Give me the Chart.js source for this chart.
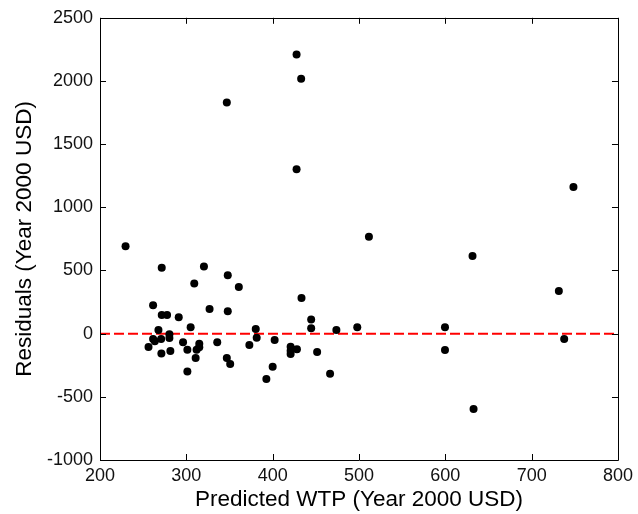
<!DOCTYPE html>
<html>
<head>
<meta charset="utf-8">
<script src="https://cdn.jsdelivr.net/npm/chart.js@4"></script>
<style>
  html, body { margin: 0; padding: 0; background: #fff; }
  #wrap { width: 638px; height: 514px; position: relative; }
</style>
</head>
<body>
<div id="wrap"><canvas id="c" width="638" height="514"></canvas></div>
<script>
// Predicted WTP (x) and residuals (y)
const predictedWTP = [
  427.7, 433, 346.9, 427.7, 748.4, 511.5, 631.5, 731.5, 498, 599.6,
  599.6, 737.7, 632.7, 229.6, 271.5, 320.4, 348, 309.2, 360.8, 433.4,
  261.5, 326.9, 348, 271.5, 277.7, 291.2, 444.6, 305, 444.6, 380.4,
  473.8, 267.7, 280.4, 261.5, 270.8, 263.5, 280.4, 381.5, 402.3, 296.2,
  335.8, 315, 373, 256.2, 315, 420.8, 301.2, 311.9, 428.1, 420.8,
  281.5, 451.5, 271.1, 420.8, 310.8, 346.9, 350.8, 400, 301.2, 466.5,
  392.7
];
const residuals = [
  2209, 2018, 1829, 1302, 1160, 767, 615, 337, 51, 51,
  -129, -43, -597, 691, 521, 531, 463, 397, 369, 282,
  224, 196, 177, 148, 148, 130, 112, 51, 43, 36,
  28, 28, -4, -43, -43, -61, -35, -33, -51, -69,
  -69, -80, -90, -106, -108, -104, -127, -127, -124, -135,
  -137, -145, -158, -161, -192, -192, -240, -261, -300, -318,
  -358
];
// zero reference line
const refLineX = [200, 800];
const refLineY = [0, 0];
// tick labels
const xTicks = [200, 300, 400, 500, 600, 700, 800];
const yTicks = [-1000, -500, 0, 500, 1000, 1500, 2000, 2500];

const scatterData = predictedWTP.map((x, i) => ({ x: x, y: residuals[i] }));
const lineData = refLineX.map((x, i) => ({ x: x, y: refLineY[i] }));

const boxTicks = {
  id: 'boxTicks',
  afterDatasetsDraw(chart) {
    const ctx = chart.ctx;
    const a = chart.chartArea;
    const xs = chart.scales.x, ys = chart.scales.y;
    const L = 6;
    ctx.save();
    ctx.strokeStyle = '#000';
    ctx.lineWidth = 1;
    ctx.beginPath();
    ctx.rect(Math.round(a.left) + 0.5, Math.round(a.top) + 0.5,
             Math.round(a.right - a.left), Math.round(a.bottom - a.top));
    xTicks.forEach(v => {
      const px = Math.round(xs.getPixelForValue(v)) + 0.5;
      ctx.moveTo(px, a.bottom); ctx.lineTo(px, a.bottom - L);
      ctx.moveTo(px, a.top); ctx.lineTo(px, a.top + L);
    });
    yTicks.forEach(v => {
      const py = Math.round(ys.getPixelForValue(v)) + 0.5;
      ctx.moveTo(a.left, py); ctx.lineTo(a.left + L, py);
      ctx.moveTo(a.right, py); ctx.lineTo(a.right - L, py);
    });
    ctx.stroke();
    ctx.restore();
  }
};

const FONT = 'Arial, "Liberation Sans", sans-serif';

new Chart(document.getElementById('c'), {
  type: 'scatter',
  data: {
    datasets: [
      {
        type: 'line',
        data: lineData,
        borderColor: '#ff0000',
        borderWidth: 2,
        borderDash: [10, 4],
        pointRadius: 0,
        fill: false,
        order: 2
      },
      {
        data: scatterData,
        backgroundColor: '#000',
        borderColor: '#000',
        pointRadius: 4,
        pointBorderWidth: 0,
        order: 1
      }
    ]
  },
  options: {
    responsive: false,
    animation: false,
    events: [],
    layout: { padding: { top: 15, right: 18, left: 0, bottom: 0 } },
    plugins: { legend: { display: false }, tooltip: { enabled: false } },
    scales: {
      x: {
        type: 'linear',
        min: 200, max: 800,
        grid: { display: false, drawTicks: false },
        border: { display: false },
        afterBuildTicks: s => { s.ticks = xTicks.map(v => ({ value: v })); },
        afterFit: s => { s.height = 54; },
        ticks: {
          color: '#111', padding: 5, maxRotation: 0,
          callback: v => String(v),
          font: { family: FONT, size: 18, lineHeight: 1.2 }
        },
        title: {
          display: true, text: 'Predicted WTP (Year 2000 USD)', color: '#000',
          padding: { top: 0, bottom: 2.5 },
          font: { family: FONT, size: 22.5, lineHeight: 1 }
        }
      },
      y: {
        type: 'linear',
        min: -1000, max: 2500,
        grid: { display: false, drawTicks: false },
        border: { display: false },
        afterBuildTicks: s => { s.ticks = yTicks.map(v => ({ value: v })); },
        afterFit: s => { s.width = 100; },
        ticks: {
          color: '#111', padding: 7,
          callback: v => String(v),
          font: { family: FONT, size: 18, lineHeight: 1.2 }
        },
        title: {
          display: true, text: 'Residuals (Year 2000 USD)', color: '#000',
          padding: { top: 13.25, bottom: 0 },
          font: { family: FONT, size: 22.5, lineHeight: 1 }
        }
      }
    }
  },
  plugins: [boxTicks]
});
</script>
</body>
</html>
